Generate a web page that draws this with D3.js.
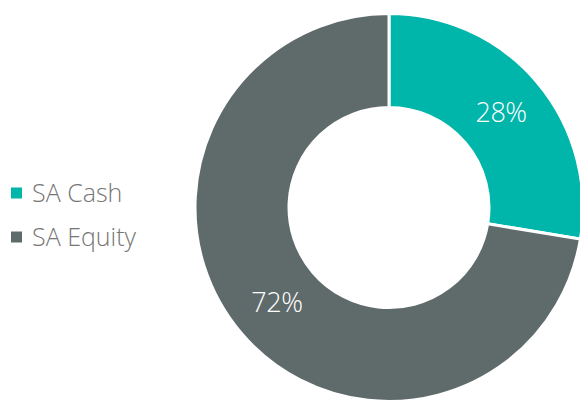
<!DOCTYPE html>
<html><head><meta charset="utf-8">
<script src="https://cdn.jsdelivr.net/npm/d3@7"></script>
<style>body{margin:0;background:#fff;}svg{display:block;}</style>
</head><body>
<svg id="c" width="580" height="401"></svg>
<script>
const categories = ["SA Cash", "SA Equity"];
const values = [27.6, 72.4];
const labels = ["28%", "72%"];
const colors = ["#00B5A9", "#5F6B6B"];

const svg = d3.select("#c");
const cx = 389, cy = 207.5, rOuter = 194, rInner = 100;
const color = d3.scaleOrdinal().domain(categories).range(colors);
const pie = d3.pie().sort(null).value(d => d.v);
const data = categories.map((c, i) => ({c, v: values[i], l: labels[i]}));
const arcs = pie(data);
const arc = d3.arc().innerRadius(rInner).outerRadius(rOuter);
const labelArc = d3.arc().innerRadius(147).outerRadius(147);
const g = svg.append("g").attr("transform", `translate(${cx},${cy})`);
g.selectAll("path").data(arcs).join("path")
  .attr("d", arc).attr("fill", d => color(d.data.c))
  .attr("stroke", "#fff").attr("stroke-width", 3);
g.selectAll("text").data(arcs).join("text")
  .attr("transform", d => { const p = labelArc.centroid(d); return `translate(${p[0]},${p[1]})`; })
  .attr("text-anchor", "middle").attr("dy", "0.36em")
  .attr("fill", "#fff").style("font-family", "'Open Sans', sans-serif")
  .style("font-weight", 300).style("font-size", "27px").style("letter-spacing", "-0.5px")
  .text(d => d.data.l);

const leg = svg.append("g");
const items = leg.selectAll("g").data(categories).join("g")
  .attr("transform", (d, i) => `translate(11,${193 + i * 44})`);
items.append("rect").attr("x", 0).attr("y", -5.5).attr("width", 11).attr("height", 11)
  .attr("fill", d => color(d));
items.append("text").attr("x", 21).attr("y", 8.5)
  .attr("fill", "#767676").style("font-family", "'Open Sans', sans-serif")
  .style("font-weight", 300).style("font-size", "25px").text(d => d);
</script>
</body></html>
